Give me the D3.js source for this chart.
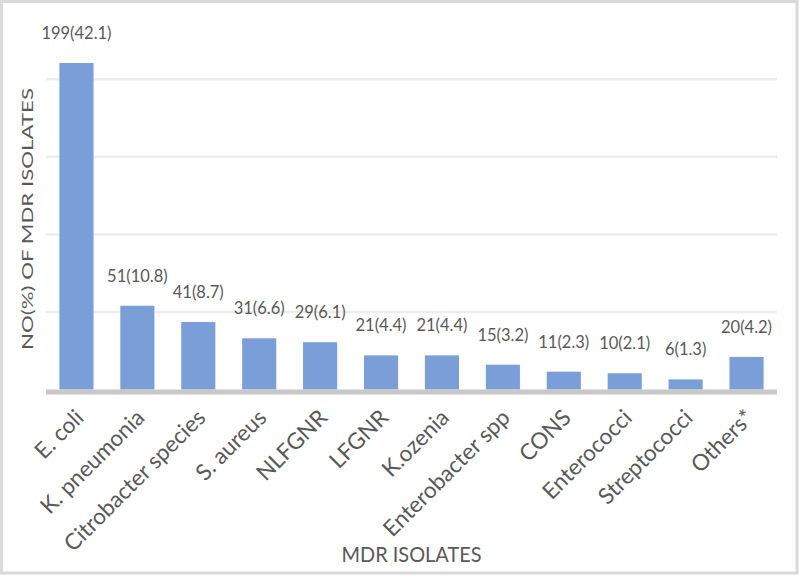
<!DOCTYPE html>
<html>
<head>
<meta charset="utf-8">
<script src="https://cdn.jsdelivr.net/npm/d3@7"></script>
<style>
  html, body { margin: 0; padding: 0; background: #ffffff; }
  svg { display: block; }
  text { font-family: Lato, "Open Sans", sans-serif; fill: #595959; }
</style>
</head>
<body>
<svg id="chart" width="800" height="576"></svg>
<script>
// ---- data ----
const categories = ["E. coli", "K. pneumonia", "Citrobacter species", "S. aureus", "NLFGNR", "LFGNR",
                    "K.ozenia", "Enterobacter spp", "CONS", "Enterococci", "Streptococci", "Others*"];
const counts   = [199, 51, 41, 31, 29, 21, 21, 15, 11, 10, 6, 20];
const percents = [42.1, 10.8, 8.7, 6.6, 6.1, 4.4, 4.4, 3.2, 2.3, 2.1, 1.3, 4.2];
const yTicks   = [10, 20, 30, 40];
const xTitle = "MDR ISOLATES";
const yTitle = "NO(%) OF MDR ISOLATES";

const data = categories.map((c, i) => ({ cat: c, count: counts[i], pct: percents[i] }));

const W = 800, H = 576;
const svg = d3.select("#chart");

// outer border
svg.append("rect")
  .attr("x", 1.5).attr("y", 1.5)
  .attr("width", W - 4.5).attr("height", H - 4.5)
  .attr("fill", "#ffffff")
  .attr("stroke", "#d9d9d9")
  .attr("stroke-width", 3);

const plot = { left: 46, right: 777, top: 1.75, bottom: 389.5 };

const x = d3.scaleBand()
  .domain(categories)
  .range([plot.left, plot.right])
  .paddingInner(0.44)
  .paddingOuter(0.22);

const y = d3.scaleLinear()
  .domain([0, 50])
  .range([plot.bottom, plot.top]);

// gridlines
svg.append("g")
  .selectAll("line")
  .data(yTicks)
  .join("line")
  .attr("x1", plot.left).attr("x2", plot.right)
  .attr("y1", d => y(d)).attr("y2", d => y(d))
  .attr("stroke", "#ededed")
  .attr("stroke-width", 2.5);

// bars
svg.append("g")
  .selectAll("rect")
  .data(data)
  .join("rect")
  .attr("x", d => x(d.cat))
  .attr("y", d => y(d.pct))
  .attr("width", x.bandwidth())
  .attr("height", d => y(0) - y(d.pct))
  .attr("fill", "#7a9ed8");

// x axis line
svg.append("line")
  .attr("x1", plot.left).attr("x2", plot.right)
  .attr("y1", y(0) + 2.5).attr("y2", y(0) + 2.5)
  .attr("stroke", "#c8c8c8")
  .attr("stroke-width", 5);

// data labels
svg.append("g")
  .selectAll("text")
  .data(data)
  .join("text")
  .attr("x", d => x(d.cat) + x.bandwidth() / 2)
  .attr("y", d => y(d.pct) - 24)
  .attr("text-anchor", "middle")
  .style("font-size", "16.5px")
  .text(d => `${d.count}(${d.pct.toFixed(1)})`);

// category labels (rotated)
const xAxis = d3.axisBottom(x).tickSize(0).tickPadding(0);
const gx = svg.append("g")
  .attr("transform", `translate(3,${y(0) + 24})`)
  .call(xAxis);
gx.select(".domain").remove();
gx.selectAll(".tick text")
  .attr("y", 0)
  .attr("dy", "0.35em")
  .attr("text-anchor", "end")
  .attr("transform", "rotate(-45)")
  .style("font-family", "Lato, 'Open Sans', sans-serif")
  .style("font-size", "22.5px")
  .attr("fill", "#595959");

// x title
svg.append("text")
  .attr("x", 411.5)
  .attr("y", 562)
  .attr("text-anchor", "middle")
  .style("font-size", "21px")
  .attr("textLength", 140)
  .attr("lengthAdjust", "spacingAndGlyphs")
  .text(xTitle);

// y title
svg.append("text")
  .attr("transform", `translate(33,219) rotate(-90)`)
  .attr("text-anchor", "middle")
  .style("font-size", "16px")
  .attr("textLength", 262)
  .attr("lengthAdjust", "spacingAndGlyphs")
  .text(yTitle);
</script>
</body>
</html>
